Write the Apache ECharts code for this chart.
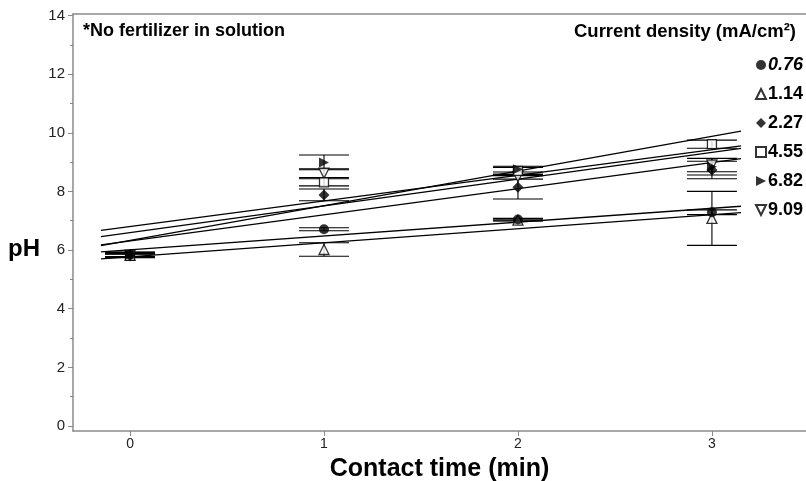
<!DOCTYPE html>
<html>
<head>
<meta charset="utf-8">
<script src="https://cdn.jsdelivr.net/npm/echarts@6/dist/echarts.min.js"></script>
<style>
html,body{margin:0;padding:0;background:#fff;}
#chart{width:806px;height:481px;}
</style>
</head>
<body>
<div id="chart"></div>
<script>
// Contact time (min)
const times = [0, 1, 2, 3];
const xTicks = [0, 1, 2, 3];
const yTicks = [0, 2, 4, 6, 8, 10, 12, 14];
const yMinorTicks = [1, 3, 5, 7, 9, 11, 13];

// Current densities (mA/cm²)
const densities = ['0.76', '1.14', '2.27', '4.55', '6.82', '9.09'];

// Mean pH per contact time, one array per current density
const ph076 = [5.83, 6.71, 7.04, 7.29];
const ph114 = [5.82, 6.02, 7.02, 7.08];
const ph227 = [5.84, 7.88, 8.14, 8.73];
const ph455 = [5.80, 8.31, 8.70, 9.61];
const ph682 = [5.85, 8.99, 8.76, 8.84];
const ph909 = [5.82, 8.62, 8.50, 8.90];

// Standard deviations
const sd076 = [0.05, 0.05, 0.04, 0.08];
const sd114 = [0.06, 0.23, 0.03, 0.92];
const sd227 = [0.08, 0.20, 0.40, 0.30];
const sd455 = [0.06, 0.12, 0.12, 0.14];
const sd682 = [0.08, 0.25, 0.10, 0.28];
const sd909 = [0.07, 0.15, 0.08, 0.23];

const means = [ph076, ph114, ph227, ph455, ph682, ph909];
const sds = [sd076, sd114, sd227, sd455, sd682, sd909];

// Marker shapes per density: circle, triangle, diamond, square, right triangle, down triangle
const RIGHT_TRI = 'path://M0,0 L10,5 L0,10 Z';
const DOWN_TRI = 'path://M0,0 L10,0 L5,10 Z';
const symbols = ['circle', 'triangle', 'diamond', 'rect', RIGHT_TRI, DOWN_TRI];
const hollow = [false, true, false, true, false, true];
const sizes = [10, 10, 11, 9, 10, 10];
// stacking order of the markers (filled circle on top)
const markerZ = [9, 5, 7, 6, 8, 5];

// Least-squares line through the four means, drawn a little past the data
function fitLine(ys) {
  const n = times.length;
  const mx = times.reduce((a, b) => a + b, 0) / n;
  const my = ys.reduce((a, b) => a + b, 0) / n;
  let sxy = 0, sxx = 0;
  for (let i = 0; i < n; i++) {
    sxy += (times[i] - mx) * (ys[i] - my);
    sxx += (times[i] - mx) * (times[i] - mx);
  }
  const b = sxy / sxx;
  const a = my - b * mx;
  const x0 = -0.15, x1 = 3.15;
  return [[x0, a + b * x0], [x1, a + b * x1]];
}

const chart = echarts.init(document.getElementById('chart'), null, {renderer: 'canvas'});

const FONT = 'Liberation Sans, Arial, sans-serif';
const axisGray = '#8a8a8a';
const series = [];

// regression lines
means.forEach((ys) => {
  series.push({
    type: 'line',
    data: fitLine(ys),
    symbol: 'none',
    lineStyle: {color: '#000', width: 1.3},
    silent: true,
    z: 2
  });
});

// error bars
means.forEach((ys, k) => {
  const sd = sds[k];
  series.push({
    type: 'custom',
    data: times.map((t, i) => [t, ys[i] - sd[i], ys[i] + sd[i]]),
    renderItem: function (params, api) {
      const lo = api.coord([api.value(0), api.value(1)]);
      const hi = api.coord([api.value(0), api.value(2)]);
      const hw = 25;
      const style = {stroke: '#000', lineWidth: 1.1};
      return {
        type: 'group',
        children: [
          {type: 'line', shape: {x1: lo[0], y1: lo[1], x2: hi[0], y2: hi[1]}, style: style},
          {type: 'line', shape: {x1: lo[0] - hw, y1: lo[1], x2: lo[0] + hw, y2: lo[1]}, style: style},
          {type: 'line', shape: {x1: hi[0] - hw, y1: hi[1], x2: hi[0] + hw, y2: hi[1]}, style: style}
        ]
      };
    },
    encode: {x: 0, y: [1, 2]},
    silent: true,
    z: 3
  });
});

// markers
means.forEach((ys, k) => {
  series.push({
    name: densities[k],
    type: 'scatter',
    data: times.map((t, i) => [t, ys[i]]),
    symbol: symbols[k],
    symbolSize: sizes[k],
    itemStyle: hollow[k]
      ? {color: '#fff', borderColor: '#000', borderWidth: 1.3}
      : {color: '#000', borderColor: '#000', borderWidth: 0},
    z: markerZ[k]
  });
});

// carrier series for the minor-tick overlay axis
series.push({type: 'line', yAxisIndex: 1, data: [], silent: true});

const labelText = {fontFamily: FONT, fontWeight: 'bold', fontSize: 18, color: '#000'};

chart.setOption({
  animation: false,
  backgroundColor: '#fff',
  grid: {left: 73, right: 0, top: 14, bottom: 50, containLabel: false, outerBoundsMode: 'none'},
  title: [
    {text: '*No fertilizer in solution', left: 78, top: 17, textStyle: labelText},
    {text: 'Current density (mA/cm²)', right: 5, top: 17, textStyle: Object.assign({}, labelText, {fontSize: 18.5})}
  ],
  graphic: [{
    type: 'text', left: 8, top: 237,
    style: {text: 'pH', font: 'bold 24px ' + FONT, fill: '#000'}
  }],
  legend: {
    data: densities,
    orient: 'vertical',
    left: 750, top: 51,
    itemWidth: 10, itemHeight: 10,
    itemGap: 11,
    selectedMode: false,
    textStyle: Object.assign({}, labelText, {
      padding: [0, 0, 0, -3],
      rich: {i: Object.assign({}, labelText, {fontStyle: 'italic'})}
    }),
    formatter: function (name) { return name === '0.76' ? '{i|' + name + '}' : name; }
  },
  xAxis: [{
    type: 'value',
    min: -0.294, max: 3.485,
    name: 'Contact time (min)',
    nameLocation: 'middle',
    nameGap: 26,
    nameTextStyle: {fontFamily: FONT, fontWeight: 'bold', fontSize: 25, color: '#000'},
    axisLine: {show: true, onZero: false, lineStyle: {color: axisGray, width: 1.5}},
    axisTick: {show: true, length: 5, customValues: xTicks, lineStyle: {color: axisGray}},
    axisLabel: {customValues: xTicks, margin: 6, fontFamily: FONT, fontSize: 14, color: '#222'},
    splitLine: {show: false}
  }, {
    type: 'value', position: 'top',
    min: -0.294, max: 3.485,
    axisLine: {show: true, onZero: false, lineStyle: {color: axisGray, width: 1.5}},
    axisTick: {show: false}, axisLabel: {show: false}, splitLine: {show: false}
  }],
  yAxis: [{
    type: 'value',
    min: -0.17, max: 14.05,
    axisLine: {show: true, onZero: false, lineStyle: {color: axisGray, width: 1.5}},
    axisTick: {show: true, length: 5, customValues: yTicks, lineStyle: {color: axisGray}},
    axisLabel: {customValues: yTicks, margin: 8, fontFamily: FONT, fontSize: 15, color: '#222'},
    splitLine: {show: false}
  }, {
    type: 'value',
    position: 'left',
    min: -0.17, max: 14.05,
    axisLine: {show: false, onZero: false},
    axisTick: {show: true, length: 3, customValues: yMinorTicks, lineStyle: {color: axisGray}},
    axisLabel: {show: false},
    splitLine: {show: false}
  }],
  series: series
});
</script>
</body>
</html>
